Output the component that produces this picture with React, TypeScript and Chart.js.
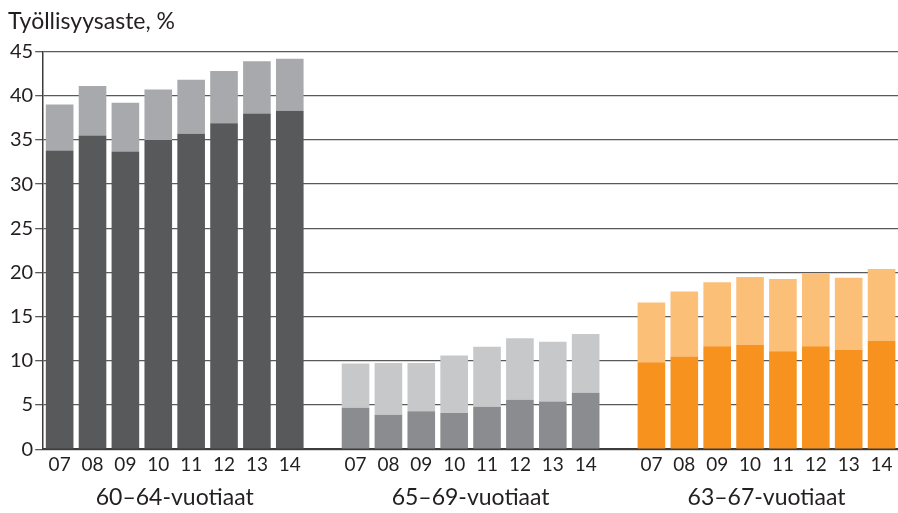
import React, { useEffect, useRef } from "react";
import { Chart, registerables } from "chart.js";

Chart.register(...registerables);

const years = ["07", "08", "09", "10", "11", "12", "13", "14"];
const groups = ["60–64-vuotiaat", "65–69-vuotiaat", "63–67-vuotiaat"];

// bottom segment (dark) and total height (top of light segment)
const g1Bottom = [33.8, 35.5, 33.7, 35.0, 35.7, 36.9, 38.0, 38.3];
const g1Total = [39.0, 41.1, 39.2, 40.7, 41.8, 42.8, 43.9, 44.2];
const g2Bottom = [4.7, 3.9, 4.3, 4.1, 4.8, 5.6, 5.4, 6.4];
const g2Total = [9.7, 9.75, 9.75, 10.6, 11.6, 12.55, 12.15, 13.05];
const g3Bottom = [9.85, 10.5, 11.65, 11.8, 11.1, 11.65, 11.25, 12.25];
const g3Total = [16.6, 17.85, 18.9, 19.5, 19.25, 19.9, 19.4, 20.4];

const darkColors = ["#58595b", "#8b8c8f", "#f7921e"];
const lightColors = ["#a7a9ac", "#c7c8ca", "#fcbf78"];

const FONT = "Lato";
const TEXT = "#231f20";

export default function App() {
  const ref = useRef<HTMLCanvasElement | null>(null);

  useEffect(() => {
    if (!ref.current) return;
    const bottoms = [g1Bottom, g2Bottom, g3Bottom];
    const totals = [g1Total, g2Total, g3Total];
    const labels: string[] = [];
    const bottomData: (number | null)[] = [];
    const topData: (number | null)[] = [];
    const bottomBg: string[] = [];
    const topBg: string[] = [];
    const groupStart: number[] = [];
    for (let g = 0; g < 3; g++) {
      if (g > 0) {
        labels.push("");
        bottomData.push(null);
        topData.push(null);
        bottomBg.push("transparent");
        topBg.push("transparent");
      }
      groupStart.push(labels.length);
      for (let i = 0; i < years.length; i++) {
        labels.push(years[i]);
        bottomData.push(bottoms[g][i]);
        topData.push(+(totals[g][i] - bottoms[g][i]).toFixed(2));
        bottomBg.push(darkColors[g]);
        topBg.push(lightColors[g]);
      }
    }

    const groupLabelPlugin = {
      id: "groupLabels",
      afterDraw(chart: any) {
        const x = chart.scales.x;
        const ctx = chart.ctx;
        ctx.save();
        ctx.fillStyle = TEXT;
        ctx.font = `23px ${FONT}`;
        ctx.textAlign = "center";
        ctx.textBaseline = "middle";
        const y = chart.chartArea.bottom + 48;
        groups.forEach((name, g) => {
          const a = x.getPixelForValue(groupStart[g]);
          const b = x.getPixelForValue(groupStart[g] + years.length - 1);
          ctx.fillText(name, (a + b) / 2, y);
        });
        ctx.restore();
      },
    };

    const chart = new Chart(ref.current, {
      type: "bar",
      data: {
        labels,
        datasets: [
          {
            data: bottomData,
            backgroundColor: bottomBg,
            borderWidth: 0,
            barPercentage: 0.84,
            categoryPercentage: 1,
            stack: "s",
          },
          {
            data: topData,
            backgroundColor: topBg,
            borderWidth: 0,
            barPercentage: 0.84,
            categoryPercentage: 1,
            stack: "s",
          },
        ],
      },
      plugins: [groupLabelPlugin],
      options: {
        animation: false,
        responsive: true,
        maintainAspectRatio: false,
        layout: { padding: { left: 8, right: 0, top: 8, bottom: 33 } },
        plugins: {
          legend: { display: false },
          tooltip: { enabled: false },
          title: {
            display: true,
            text: "Työllisyysaste, %",
            align: "start",
            color: TEXT,
            font: { family: FONT, size: 23, weight: "normal" },
            padding: { top: 0, bottom: 16 },
          },
        },
        scales: {
          x: {
            type: "category",
            stacked: true,
            offset: true,
            grid: { display: false, drawTicks: false, tickLength: 0 },
            border: { display: true, color: "#3c3c3c", width: 2 },
            ticks: {
              color: TEXT,
              font: { family: FONT, size: 19 },
              padding: 4,
              maxRotation: 0,
              autoSkip: false,
            },
          },
          y: {
            stacked: true,
            min: 0,
            max: 45,
            ticks: {
              stepSize: 5,
              color: TEXT,
              font: { family: FONT, size: 20 },
              padding: 2,
            },
            grid: {
              color: "#5a5a5a",
              lineWidth: 1.3,
              tickLength: 8,
              drawTicks: true,
            },
            border: { display: true, color: "#3c3c3c", width: 1.5 },
          },
        },
      },
    });
    return () => chart.destroy();
  }, []);

  return (
    <div style={{ position: "fixed", left: 0, top: 0, width: 898, height: 513 }}>
      <canvas ref={ref} />
    </div>
  );
}
